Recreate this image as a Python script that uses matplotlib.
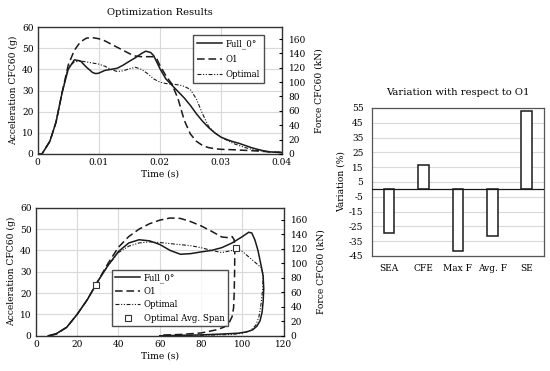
## ========================================================
## Filename     : plot.py
## Description  : Optimization Results (2 line charts + bar chart)
## ========================================================
import numpy as np
import matplotlib
matplotlib.use("Agg")
import matplotlib.pyplot as plt

plt.rcParams['font.family'] = ['DejaVu Serif']
plt.rcParams['axes.unicode_minus'] = False

## ========================================================
## Data : top panel (acceleration vs time)
## ========================================================
top_t_full = [0, 0.0007, 0.002, 0.003, 0.004, 0.005, 0.006, 0.007, 0.008, 0.009, 0.0095,
              0.010, 0.011, 0.012, 0.013, 0.014, 0.015, 0.016, 0.017, 0.0177, 0.0185, 0.019,
              0.020, 0.021, 0.022, 0.023, 0.024, 0.025, 0.026, 0.027, 0.028, 0.029, 0.030,
              0.031, 0.032, 0.033, 0.034, 0.035, 0.036, 0.037, 0.038, 0.040]
top_a_full = [0, 0, 6, 15, 29, 40, 44.5, 44, 41, 38.5, 38,
              38.2, 39.5, 40, 40.5, 42, 43.8, 45.5, 47.5, 48.6, 48, 46.5,
              40.5, 35.5, 32.5, 29.5, 26.5, 23, 19, 15.5, 12.5, 10, 8,
              6.8, 5.8, 5, 4, 3, 2.2, 1.5, 1, 0.6]

top_t_o1 = [0, 0.0007, 0.002, 0.003, 0.004, 0.005, 0.006, 0.007, 0.008, 0.009,
            0.010, 0.011, 0.012, 0.013, 0.014, 0.015, 0.016, 0.017, 0.018, 0.019, 0.0195,
            0.020, 0.021, 0.022, 0.023, 0.024, 0.025, 0.026, 0.027, 0.028, 0.029, 0.030,
            0.032, 0.034, 0.036, 0.038, 0.040]
top_a_o1 = [0, 0, 6, 15, 29, 42, 49, 53, 54.8, 55,
            54.5, 53.5, 52, 50.5, 49, 47.5, 46.3, 46, 46, 46, 45,
            42, 37, 33, 26, 16, 9.5, 6, 4, 3, 2.5, 2.2,
            2, 1.7, 1.4, 1, 0.7]

top_t_opt = [0, 0.0007, 0.002, 0.003, 0.004, 0.005, 0.006, 0.007, 0.008, 0.009,
             0.010, 0.011, 0.012, 0.013, 0.014, 0.015, 0.016, 0.017, 0.018, 0.019,
             0.020, 0.021, 0.022, 0.023, 0.024, 0.025, 0.026, 0.027, 0.028, 0.029,
             0.030, 0.031, 0.032, 0.033, 0.034, 0.035, 0.036, 0.038, 0.040]
top_a_opt = [0, 0, 6, 15, 29, 41, 43.5, 44, 43.5, 43,
             42.5, 41.5, 40, 39, 39.3, 40.3, 41, 40, 38, 35.5,
             34, 33.3, 33, 32.7, 32, 30.5, 26, 19, 13, 10,
             8, 6.5, 5, 4, 3, 2.2, 1.6, 1, 0.8]

## ========================================================
## Data : bottom panel (acceleration loop)
## ========================================================
bot_x_full = [6, 10, 15, 20, 25, 30, 35, 40, 45, 50, 55, 60, 65, 70, 75, 80, 85, 90, 95, 100,
              103, 104.5, 106, 107.5, 109, 110, 110.3, 110, 109.5, 108.5, 107, 105, 102, 98,
              90, 80, 70, 60]
bot_a_full = [0, 1, 4, 10, 17, 25.5, 33, 39.5, 43.5, 45, 44.5, 42.8, 40, 38.2, 38.5, 39.3, 40,
              41.3, 43.5, 46.5, 48.5, 48.2, 45, 40, 33, 28, 22, 16, 11, 7, 4.5, 2.8, 1.8, 1.2,
              0.8, 0.4, 0.2, 0]

bot_x_o1 = [7, 10, 15, 20, 25, 30, 35, 40, 45, 50, 55, 60, 65, 70, 75, 80, 85, 90, 93, 95,
            96, 96.3, 96.2, 96, 95.7, 95, 93.5, 91, 87.5, 80, 70, 60]
bot_a_o1 = [0, 0.8, 4, 10, 17, 25.5, 34, 41.5, 46.5, 50, 52.5, 54.2, 55.2, 55, 53.5, 51.5,
            49, 46.3, 46, 46.5, 45, 40, 30, 20, 13, 9, 6, 4, 2.8, 1.3, 0.6, 0.3]

bot_x_opt = [6, 10, 15, 20, 25, 30, 35, 40, 45, 50, 55, 60, 65, 70, 75, 80, 85, 90, 95, 98,
             100, 103, 106, 109, 110, 109.8, 109, 108, 106.5, 104, 100, 95, 85, 75, 60]
bot_a_opt = [0, 1, 4, 10, 17, 25.5, 33, 39, 42, 43.5, 44, 43.7, 43.2, 42.7, 42.2, 41.3, 40,
             39, 40, 40.5, 39.5, 37, 34.5, 32, 29, 22, 15, 9, 5, 2.5, 1.2, 0.6, 0.3, 0.1, 0]

span_x = [29, 97]
span_a = [23.8, 41.2]

## ========================================================
## Data : bar chart
## ========================================================
bar_labels = ['SEA', 'CFE', 'Max F', 'Avg. F', 'SE']
bar_values = [-29.7, 16.5, -41.5, -31.5, 53]

## ========================================================
## Styles
## ========================================================
GRID = '#d9d9d9'
LINE = '#1a1a1a'
FS_TICK = 6.5
FS_LAB = 6.6
FS_TITLE = 7.2
ls_o1 = (0, (5, 2.5))
ls_opt = (0, (3.5, 1.5, 1, 1.5, 1, 1.5))


def style_left(ax):
    ax.set_ylim(0, 60)
    ax.set_yticks(range(0, 61, 10))
    ax.grid(True, color=GRID, lw=0.8)
    ax.set_axisbelow(True)
    for s in ax.spines.values():
        s.set_color('#333333')
        s.set_linewidth(1.0)
    ax.tick_params(labelsize=FS_TICK, length=0, pad=3)
    ax.set_ylabel('Acceleration CFC60 (g)', fontsize=FS_LAB, labelpad=3)
    ax.set_xlabel('Time (s)', fontsize=FS_LAB, labelpad=2)

    ## 보조축 : Force
    ax2 = ax.twinx()
    ax2.set_ylim(0, 176.6)
    ax2.set_yticks(range(0, 161, 20))
    ax2.tick_params(labelsize=FS_TICK, length=2, direction='in', pad=5)
    ax2.set_ylabel('Force CFC60 (kN)', fontsize=FS_LAB, labelpad=6)
    for s in ax2.spines.values():
        s.set_visible(False)
    return ax2


fig = plt.figure(figsize=(5.5, 3.71), dpi=100)

## ========================================================
## Top panel
## ========================================================
ax1 = fig.add_axes([0.0685, 0.585, 0.444, 0.342])
ax1.plot(top_t_full, top_a_full, color=LINE, lw=1.1, label='Full_0°')
ax1.plot(top_t_o1, top_a_o1, color=LINE, lw=1.1, ls=ls_o1, label='O1')
ax1.plot(top_t_opt, top_a_opt, color=LINE, lw=0.8, ls=ls_opt, label='Optimal')
ax1.set_xlim(0, 0.04)
ax1.set_xticks([0, 0.01, 0.02, 0.03, 0.04])
ax1.set_xticklabels(['0', '0.01', '0.02', '0.03', '0.04'])
style_left(ax1)
ax1.set_title('Optimization Results', fontsize=FS_TITLE, pad=9)
leg1 = ax1.legend(loc='upper right', fontsize=6.2, frameon=True, fancybox=False,
                  borderpad=0.5, handlelength=2.9, handletextpad=0.4, labelspacing=0.7,
                  bbox_to_anchor=(0.945, 0.975))
leg1.get_frame().set_edgecolor('#222222')
leg1.get_frame().set_linewidth(1.0)

## ========================================================
## Bottom panel
## ========================================================
ax3 = fig.add_axes([0.065, 0.095, 0.451, 0.345])
ax3.plot(bot_x_full, bot_a_full, color=LINE, lw=1.1, label='Full_0°')
ax3.plot(bot_x_o1, bot_a_o1, color=LINE, lw=1.1, ls=ls_o1, label='O1')
ax3.plot(bot_x_opt, bot_a_opt, color=LINE, lw=0.8, ls=ls_opt, label='Optimal')
ax3.plot(span_x, span_a, ls='none', marker='s', ms=4.5, mfc='white', mec='#333333',
         mew=0.8, label='Optimal Avg. Span')
ax3.set_xlim(0, 120)
ax3.set_xticks(range(0, 121, 20))
style_left(ax3)
leg3 = ax3.legend(loc='upper left', fontsize=6.2, frameon=True, fancybox=False,
                  borderpad=0.4, handlelength=2.9, handletextpad=0.4, labelspacing=0.5,
                  bbox_to_anchor=(0.29, 0.55))
leg3.get_frame().set_edgecolor('#222222')
leg3.get_frame().set_linewidth(1.0)

## ========================================================
## Bar chart
## ========================================================
ax4 = fig.add_axes([0.676, 0.31, 0.313, 0.399])
xpos = np.arange(len(bar_labels))
ax4.bar(xpos, bar_values, width=0.31, color='white', edgecolor=LINE, lw=1.1, zorder=3)
ax4.axhline(0, color=LINE, lw=0.9, zorder=4)
ax4.set_xlim(-0.5, len(bar_labels) - 0.5)
ax4.set_ylim(-45, 55)
ax4.set_yticks(range(-45, 56, 10))
ax4.set_xticks(xpos)
ax4.set_xticklabels(bar_labels)
ax4.grid(True, axis='y', color=GRID, lw=0.8)
ax4.set_axisbelow(True)
ax4.tick_params(labelsize=FS_TICK, length=0, pad=6)
ax4.set_ylabel('Variation (%)', fontsize=FS_LAB, labelpad=2)
ax4.set_title('Variation with respect to O1', fontsize=FS_TITLE, pad=9)
for s in ax4.spines.values():
    s.set_color('#555555')
    s.set_linewidth(0.9)

fig.savefig('out.png', dpi=100)
